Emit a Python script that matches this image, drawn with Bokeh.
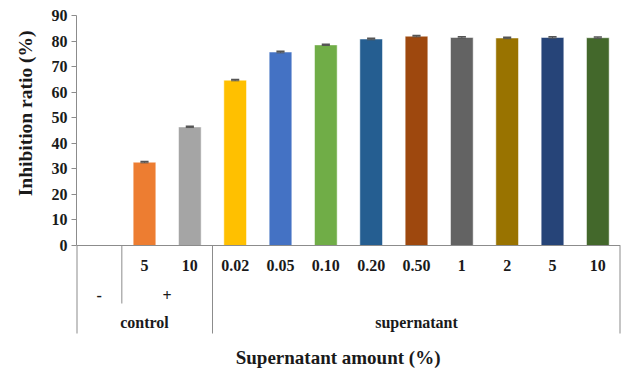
from bokeh.plotting import figure
from bokeh.models import Range1d, FixedTicker, Title, ColumnDataSource
from bokeh.core.properties import value
from bokeh.embed import file_html
from bokeh.resources import INLINE

# ---------------- data ----------------
level1_labels = ["", "5", "10", "0.02", "0.05", "0.10", "0.20", "0.50", "1", "2", "5", "10"]
level2_labels = ["-", "+"]
level2_spans = [1, 2]           # slots under each level-2 label (control only)
level3_labels = ["control", "supernatant"]
level3_spans = [3, 9]
inhibition = [None, 32.6, 46.4, 64.7, 75.7, 78.5, 80.8, 81.9, 81.4, 81.2, 81.4, 81.3]
errors = [None, 0.25, 0.25, 0.25, 0.3, 0.25, 0.3, 0.25, 0.25, 0.25, 0.25, 0.25]
bar_colors = [None, "#ED7D31", "#A5A5A5", "#FFC000", "#4472C4", "#70AD47",
              "#255E91", "#9E480E", "#636363", "#997300", "#264478", "#43682B"]
y_ticks = [0, 10, 20, 30, 40, 50, 60, 70, 80, 90]
y_title = "Inhibition ratio (%)"
x_title = "Supernatant amount (%)"

FONT = "Liberation Serif"
TXT = "#1a1a1a"
LC = "#8c8c8c"
n = len(level1_labels)
W, H = 621, 369
LEFT, RIGHT, TOP = 76, 1, 15
PLOT_PX = 230.0            # pixel height of the 0..90 value span
YMAX = y_ticks[-1]
frame_h = H - TOP
u = YMAX / PLOT_PX          # data units per pixel
YMIN = YMAX - frame_h * u


def below(px):
    """y position px pixels below the value axis baseline (y=0)."""
    return -px * u


p = figure(width=W, height=H, x_range=Range1d(0, n), y_range=Range1d(YMIN, YMAX),
           x_axis_type=None, output_backend="svg", toolbar_location=None,
           min_border_left=LEFT, min_border_right=RIGHT, min_border_top=TOP,
           min_border_bottom=0)
p.outline_line_color = None
p.grid.visible = False

# ---------------- bars + error bars ----------------
idx = [i for i, v in enumerate(inhibition) if v is not None]
src = ColumnDataSource(dict(
    x=[i + 0.5 for i in idx],
    top=[inhibition[i] for i in idx],
    color=[bar_colors[i] for i in idx],
    lo=[inhibition[i] - errors[i] for i in idx],
    hi=[inhibition[i] + errors[i] for i in idx],
    cl=[i + 0.5 - 0.09 for i in idx],
    cr=[i + 0.5 + 0.09 for i in idx],
))
p.vbar(x="x", top="top", bottom=0, width=0.5, fill_color="color",
       line_color="white", line_alpha=0.5, line_width=1, source=src)
p.segment(x0="x", y0="lo", x1="x", y1="hi", line_color="#555555", line_width=1, source=src)
p.segment(x0="cl", y0="hi", x1="cr", y1="hi", line_color="#555555", line_width=1.5, source=src)
p.segment(x0="cl", y0="lo", x1="cr", y1="lo", line_color="#555555", line_width=1, source=src)

# ---------------- value axis ----------------
ya = p.yaxis[0]
ya.bounds = (0, YMAX)
ya.ticker = FixedTicker(ticks=y_ticks)
ya.minor_tick_line_color = None
ya.major_tick_out = 5
ya.major_tick_in = 0
ya.major_tick_line_color = LC
ya.axis_line_color = LC
ya.major_label_text_font = FONT
ya.major_label_text_font_style = "bold"
ya.major_label_text_font_size = "16px"
ya.major_label_text_color = TXT
ya.major_label_standoff = 4

p.add_layout(Title(text=y_title, align="right", offset=15, text_font=FONT,
                   text_font_style="bold", text_font_size="19.5px", text_color=TXT,
                   standoff=25), "left")

# ---------------- category table ----------------
# baseline axis line
p.segment(x0=[0], y0=[0], x1=[n], y1=[0], line_color=LC, line_width=1)

# row 1
p.text(x=[i + 0.5 for i in range(n)], y=[below(20)] * n, text=level1_labels,
       text_align="center", text_baseline="middle", text_font=value(FONT),
       text_font_style="bold", text_font_size="16px", text_color=TXT)

# row 2
x2, sep2, pos = [], [], 0
for s in level2_spans:
    x2.append(pos + s / 2)
    pos += s
    sep2.append(pos)
sep2 = sep2[:-1]
p.text(x=x2, y=[below(50)] * len(x2), text=level2_labels, text_align="center",
       text_baseline="middle", text_font=value(FONT), text_font_style="bold",
       text_font_size="16px", text_color=TXT)
p.segment(x0=sep2, y0=[0] * len(sep2), x1=sep2, y1=[below(58)] * len(sep2),
          line_color=LC, line_width=1)

# row 3
x3, b3, pos = [], [0], 0
for s in level3_spans:
    x3.append(pos + s / 2)
    pos += s
    b3.append(pos)
p.text(x=x3, y=[below(77)] * len(x3), text=level3_labels, text_align="center",
       text_baseline="middle", text_font=value(FONT), text_font_style="bold",
       text_font_size="16px", text_color=TXT)
p.segment(x0=b3, y0=[0] * len(b3), x1=b3, y1=[below(88)] * len(b3),
          line_color=LC, line_width=[2 if b in (0, n) else 1 for b in b3])

# axis title
p.text(x=[n / 2 - 0.23], y=[below(112)], text=[x_title], text_align="center",
       text_baseline="middle", text_font=value(FONT), text_font_style="bold",
       text_font_size="19px", text_color=TXT)

open("out.html", "w").write(file_html(p, INLINE))
